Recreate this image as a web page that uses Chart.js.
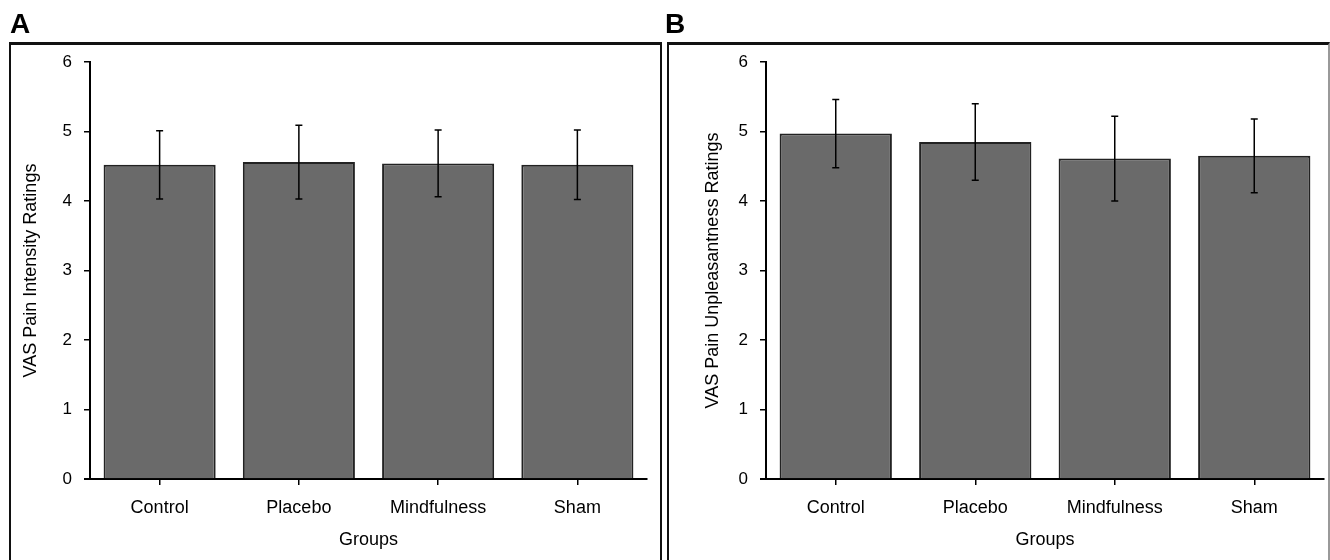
<!DOCTYPE html>
<html>
<head>
<meta charset="utf-8">
<script src="https://cdn.jsdelivr.net/npm/chart.js@4"></script>
<style>
  body { margin: 0; background: #fff; overflow: hidden; font-family: "Liberation Sans", Arial, Helvetica, sans-serif; }
  #wrap { position: relative; width: 1330px; height: 560px; }
  canvas { position: absolute; top: 0; }
  .panel { position: absolute; top: 42px; height: 530px; box-sizing: border-box;
           border-top: 3px solid #111; border-left: 2px solid #111; border-right: 2px solid #111; }
  .lbl { position: absolute; top: 8px; font-weight: bold; font-size: 28px; color: #000; }
</style>
</head>
<body>
<div id="wrap">
  <canvas id="chartA" width="665" height="560" style="left:0"></canvas>
  <canvas id="chartB" width="665" height="560" style="left:665px"></canvas>
  <div class="panel" style="left:9px; width:653px;"></div>
  <div class="panel" style="left:667px; width:663px; border-right-color:#999;"></div>
  <div class="lbl" style="left:10px;">A</div>
  <div class="lbl" style="left:665px;">B</div>
</div>
<script>
// values (mean and error per group)
const groups = ['Control', 'Placebo', 'Mindfulness', 'Sham'];
const intensityMean = [4.52, 4.56, 4.54, 4.52];
const intensityErr = [0.49, 0.53, 0.48, 0.50];
const unpleasantMean = [4.97, 4.85, 4.61, 4.65];
const unpleasantErr = [0.49, 0.55, 0.61, 0.53];
const yMin = 0, yMax = 6, yStep = 1;

const FONT = '"Liberation Sans", Arial, Helvetica, sans-serif';

// error bars + short extension of the x axis line to the left
const errorBars = {
  id: 'errorBars',
  afterDatasetsDraw(chart, args, opts) {
    const ctx = chart.ctx;
    const y = chart.scales.y;
    const meta = chart.getDatasetMeta(0);
    const means = chart.data.datasets[0].data;
    ctx.save();
    ctx.strokeStyle = '#000';
    ctx.lineWidth = 1.5;
    meta.data.forEach((bar, i) => {
      const top = y.getPixelForValue(means[i] + opts.err[i]);
      const bot = y.getPixelForValue(means[i] - opts.err[i]);
      ctx.beginPath();
      ctx.moveTo(bar.x, top); ctx.lineTo(bar.x, bot);
      ctx.moveTo(bar.x - 3.5, top); ctx.lineTo(bar.x + 3.5, top);
      ctx.moveTo(bar.x - 3.5, bot); ctx.lineTo(bar.x + 3.5, bot);
      ctx.stroke();
    });
    const a = chart.chartArea;
    ctx.lineWidth = 2;
    ctx.beginPath();
    ctx.moveTo(a.left - 6, a.bottom); ctx.lineTo(a.left, a.bottom);
    ctx.stroke();
    ctx.restore();
  }
};

function makeChart(id, means, errs, yTitle, yWidth, titlePad, rightPad) {
  return new Chart(document.getElementById(id), {
    type: 'bar',
    data: {
      labels: groups,
      datasets: [{
        data: means,
        backgroundColor: '#6a6a6a',
        borderColor: '#222',
        borderWidth: 2,
        categoryPercentage: 1,
        barPercentage: 0.805
      }]
    },
    plugins: [errorBars],
    options: {
      responsive: false,
      animation: false,
      layout: { padding: { left: 0, top: 62, right: rightPad, bottom: 0 } },
      plugins: {
        legend: { display: false },
        tooltip: { enabled: false },
        errorBars: { err: errs }
      },
      scales: {
        x: {
          afterFit(s) { s.height = 81; },
          grid: { display: true, drawOnChartArea: false, offset: false, color: '#000', lineWidth: 1.5, tickLength: 6 },
          border: { display: true, color: '#000', width: 2 },
          ticks: { color: '#000', padding: 12, font: { family: FONT, size: 18 } },
          title: { display: true, text: 'Groups', color: '#000', font: { family: FONT, size: 18 }, padding: { top: 0, bottom: 9 } }
        },
        y: {
          min: yMin, max: yMax,
          afterFit(s) { s.width = yWidth; },
          grid: { display: true, drawOnChartArea: false, color: '#000', lineWidth: 1.5, tickLength: 6 },
          border: { display: true, color: '#000', width: 2 },
          ticks: { stepSize: yStep, color: '#000', padding: 12, font: { family: FONT, size: 17 } },
          title: { display: true, text: yTitle, color: '#000', font: { family: FONT, size: 18 }, padding: { top: titlePad, bottom: 0 } }
        }
      }
    }
  });
}

makeChart('chartA', intensityMean, intensityErr, 'VAS Pain Intensity Ratings', 90, 20, 18);
makeChart('chartB', unpleasantMean, unpleasantErr, 'VAS Pain Unpleasantness Ratings', 101, 37, 6);
</script>
</body>
</html>
